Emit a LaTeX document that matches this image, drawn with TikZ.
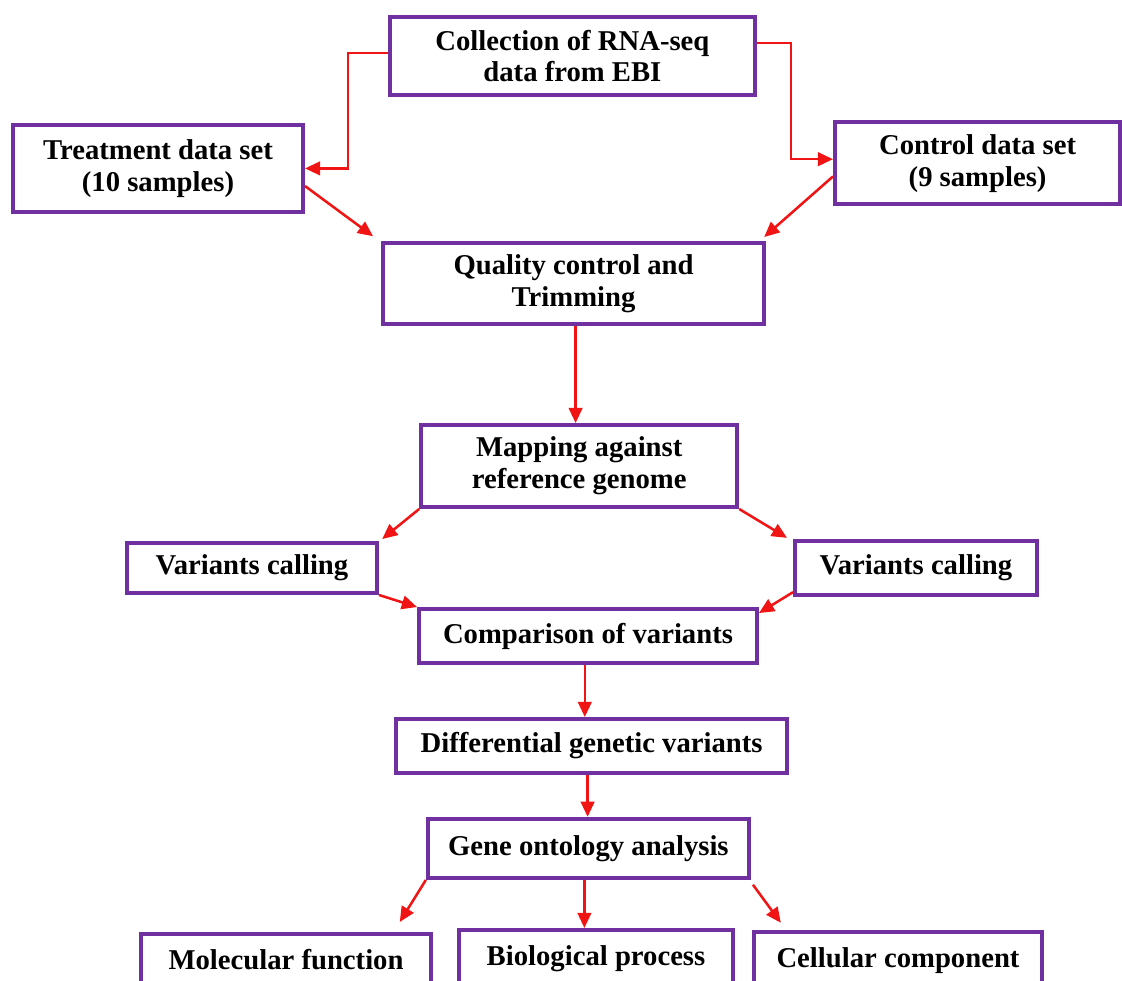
\documentclass[tikz,border=0pt]{standalone}
\usepackage{xcolor}
\usepackage{tikz}
\usepackage{fontspec}
\setmainfont{Liberation Serif}
\usetikzlibrary{arrows.meta, positioning, calc}
\definecolor{boxpurple}{RGB}{112, 48, 160}
\definecolor{arrowred}{RGB}{240, 20, 20}

\begin{document}
\begin{tikzpicture}[
  box/.style={draw=boxpurple, line width=2.8pt, fill=white, align=center, inner sep=2pt, font=\bfseries\fontsize{20.4}{22.7}\selectfont},
  leaf/.style={box, anchor=north, inner ysep=0.38cm, text depth=1cm},
  arrow/.style={-{Triangle[length=0.38cm, width=0.34cm]}, line width=1.8pt, color=arrowred}
]
  \useasboundingbox (0,0) rectangle (28.05,-24.5);

  \node[box, minimum width=9.13cm, minimum height=1.95cm] (coll)  at (14.31,-1.40) {Collection of RNA-seq\\data from EBI};
  \node[box, minimum width=7.25cm, minimum height=2.18cm] (treat) at (3.95,-4.21) {Treatment data set\\(10 samples)};
  \node[box, minimum width=7.13cm, minimum height=2.05cm] (ctrl)  at (24.44,-4.08) {Control data set\\(9 samples)};
  \node[box, minimum width=9.53cm, minimum height=2.03cm] (qual)  at (14.34,-7.09) {Quality control and\\Trimming};
  \node[box, minimum width=7.90cm, minimum height=2.05cm] (map)   at (14.48,-11.65) {Mapping against\\reference genome};
  \node[box, minimum width=6.25cm, minimum height=1.25cm] (varl)  at (6.30,-14.20) {Variants calling};
  \node[box, minimum width=6.05cm, minimum height=1.35cm] (varr)  at (22.90,-14.20) {Variants calling};
  \node[box, minimum width=8.45cm, minimum height=1.35cm] (comp)  at (14.70,-15.90) {Comparison of variants};
  \node[box, minimum width=9.78cm, minimum height=1.35cm] (diff)  at (14.79,-18.65) {Differential genetic variants};
  \node[box, minimum width=8.03cm, minimum height=1.48cm] (gene)  at (14.71,-21.21) {Gene ontology analysis};
  \node[leaf, minimum width=7.25cm] (mol)  at (7.15,-23.30) {Molecular function};
  \node[leaf, minimum width=6.85cm] (bio)  at (14.90,-23.20) {Biological process};
  \node[leaf, minimum width=7.20cm] (cell) at (22.45,-23.25) {Cellular component};

  % Data sets
  \draw[arrow] ([yshift=0.08cm]coll.west) -- ++(-1.0,0) |- (treat.east);
  \draw[arrow] ([yshift=0.33cm]coll.east) -- ++(0.85,0) |- ([yshift=0.1cm]ctrl.west);
  \draw[arrow] ([yshift=-0.44cm]treat.east) -- ([shift={(-0.2,0.12)}]qual.north west);
  \draw[arrow] ([yshift=-0.33cm]ctrl.west) -- ([shift={(-0.05,0.1)}]qual.north east);
  % Mapping
  \draw[arrow] ([xshift=0.05cm]qual.south) -- ([xshift=0.05cm]qual.south |- map.north);
  \draw[arrow] (map.south west) -- ([shift={(0.08,0.05)}]varl.north east);
  \draw[arrow] (map.south east) -- ([shift={(-0.15,0.03)}]varr.north west);
  % Comparison
  \draw[arrow] (varl.south east) -- (comp.north west);
  \draw[arrow] ([yshift=0.12cm]varr.south west) -- ([yshift=-0.15cm]comp.north east);
  \draw[arrow] ([xshift=-0.08cm]comp.south) -- ([xshift=-0.08cm]comp.south |- diff.north);
  \draw[arrow] ([xshift=-0.1cm]diff.south) -- ([xshift=-0.1cm]diff.south |- gene.north);
  % Gene ontology
  \draw[arrow] (gene.south west) -- ([shift={(-0.83,0.25)}]mol.north east);
  \draw[arrow] ([xshift=-0.1cm]gene.south) -- ([xshift=-0.1cm]gene.south |- bio.north);
  \draw[arrow] ([shift={(0.05,-0.12)}]gene.south east) -- ([shift={(0.72,0.18)}]cell.north west);
\end{tikzpicture}
\end{document}
